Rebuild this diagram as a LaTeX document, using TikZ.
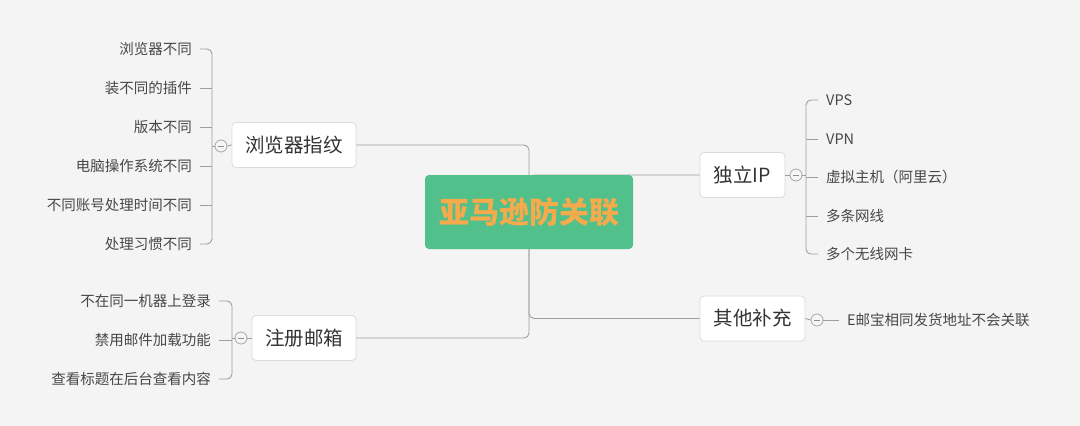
\documentclass[tikz,border=0pt]{standalone}
\usepackage{fontspec}
\setmainfont{Noto Sans CJK SC}
\begin{document}
\begin{tikzpicture}[x=1pt,y=-1pt,
  conn/.style={draw=black!38, line width=0.9pt, rounded corners=5pt},
  mainbox/.style={draw=black!14, fill=white, rounded corners=4pt, line width=0.8pt, inner sep=0pt, font=\fontsize{19.5}{22}\selectfont, text=black!80},
  leaf/.style={inner sep=0pt, inner xsep=8pt, font=\fontsize{14.5}{17}\selectfont, text=black!72},
  fold/.style={circle, draw=black!35, line width=0.8pt, fill=white!96!black, minimum size=12pt, inner sep=0pt,
     path picture={\draw[black!45, line width=0.8pt] ([xshift=-3pt]path picture bounding box.center) -- ([xshift=3pt]path picture bounding box.center);}}
]
\definecolor{bg}{HTML}{F4F4F4}
\definecolor{grn}{HTML}{52C08B}
\definecolor{org}{HTML}{F5AA4C}
\fill[bg] (0,0) rectangle (1080,426);
\useasboundingbox (0,0) rectangle (1080,426);

% main branch nodes
\node[mainbox, minimum width=124pt, minimum height=45pt] (bf) at (294,145) {浏览器指纹};
\node[mainbox, minimum width=104pt, minimum height=45pt] (zc) at (304,338) {注册邮箱};
\node[mainbox, minimum width=85pt, minimum height=45pt] (ip) at (742.5,175) {独立IP};
\node[mainbox, minimum width=105pt, minimum height=45pt] (qt) at (752.5,318.5) {其他补充};

\coordinate (hub) at (529,212);
% trunk connectors (drawn before the centre box)
\draw[conn] (bf.east) -- (529,145) -- (529,338) -- (zc.east);
\draw[conn] (hub) |- (ip.west);
\draw[conn] (hub) |- (qt.west);

% centre
\node[fill=grn, rounded corners=4pt, minimum width=208pt, minimum height=74pt, inner sep=0pt,
      text=org, font=\fontsize{30}{34}\selectfont\bfseries] (main) at (hub) {亚马逊防关联};

% fold markers
\node[fold] (f1) at (221,146) {};
\node[fold] (f2) at (241,338) {};
\node[fold] (f3) at (796,175) {};
\node[fold] (f4) at (817,320) {};
\draw[conn] (f1.east) -- (bf.west);
\draw[conn] (f2.east) -- (zc.west);
\draw[conn] (ip.east) -- (f3.west);
\draw[conn] (qt.east) -- (f4.west);

% browser fingerprint leaves
\node[leaf, anchor=east] (a1) at (200,49) {浏览器不同};
\node[leaf, anchor=east] (a2) at (200,88) {装不同的插件};
\node[leaf, anchor=east] (a3) at (200,127) {版本不同};
\node[leaf, anchor=east] (a4) at (200,166) {电脑操作系统不同};
\node[leaf, anchor=east] (a5) at (200,205) {不同账号处理时间不同};
\node[leaf, anchor=east] (a6) at (200,244) {处理习惯不同};
\draw[conn] (a1.east) -- (212,49) -- (212,244) -- (a6.east);
\draw[conn] (a2.east) -- (212,88);
\draw[conn] (a3.east) -- (212,127);
\draw[conn] (a4.east) -- (212,166);
\draw[conn] (a5.east) -- (212,205);
\draw[conn] (f1.west) -- (212,146);

% register mailbox leaves
\node[leaf, anchor=east] (b1) at (219,301) {不在同一机器上登录};
\node[leaf, anchor=east] (b2) at (219,340) {禁用邮件加载功能};
\node[leaf, anchor=east] (b3) at (219,379) {查看标题在后台查看内容};
\draw[conn] (b1.east) -- (232,301) -- (232,379) -- (b3.east);
\draw[conn] (b2.east) -- (232,340);
\draw[conn] (f2.west) -- (232,338);

% independent IP leaves
\node[leaf, anchor=west] (c1) at (818,100) {VPS};
\node[leaf, anchor=west] (c2) at (818,139) {VPN};
\node[leaf, anchor=west] (c3) at (818,177) {虚拟主机（阿里云）};
\node[leaf, anchor=west] (c4) at (818,216) {多条网线};
\node[leaf, anchor=west] (c5) at (818,254) {多个无线网卡};
\draw[conn] (c1.west) -- (806,100) -- (806,254) -- (c5.west);
\draw[conn] (c2.west) -- (806,139);
\draw[conn] (c3.west) -- (806,177);
\draw[conn] (c4.west) -- (806,216);
\draw[conn] (f3.east) -- (806,175);

% other
\node[leaf, anchor=west] (d1) at (839,320) {E邮宝相同发货地址不会关联};
\draw[conn] (f4.east) -- (d1.west);
\end{tikzpicture}
\end{document}
